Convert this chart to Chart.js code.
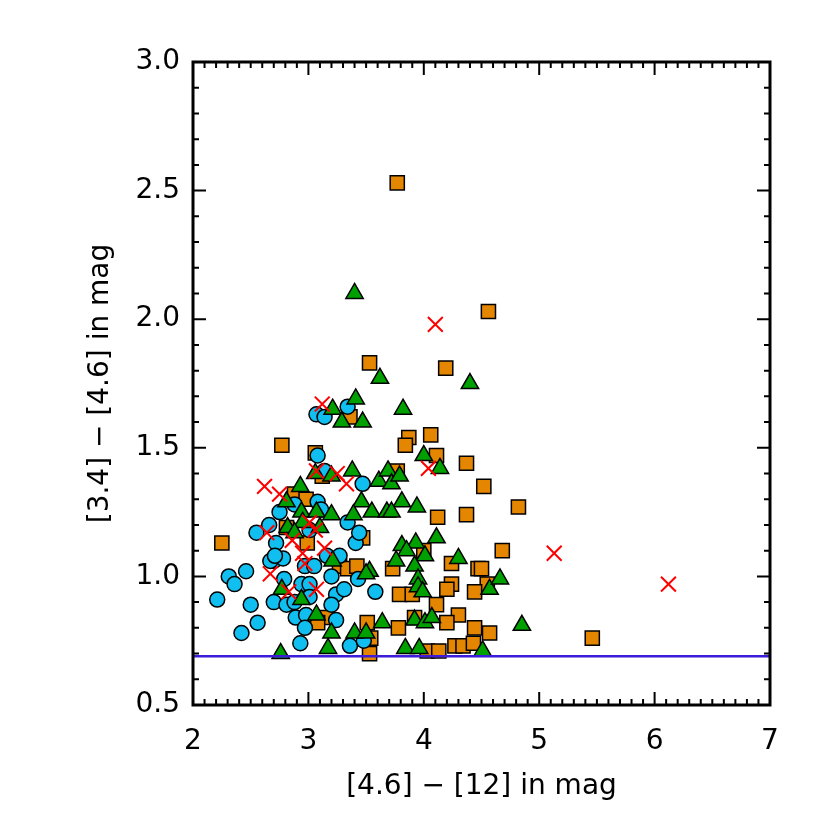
<!DOCTYPE html>
<html>
<head>
<meta charset="utf-8">
<script src="https://cdn.jsdelivr.net/npm/chart.js@4.4.1/dist/chart.umd.min.js"></script>
<style>
html, body { margin: 0; padding: 0; background: #fff; }
</style>
</head>
<body>
<canvas id="colorChart" width="830" height="830"></canvas>
<script>
// axis ranges and tick labels
const xRange = [2, 7];
const yRange = [0.5, 3.0];
const xTickLabels = [2, 3, 4, 5, 6, 7];
const yTickLabels = [0.5, 1.0, 1.5, 2.0, 2.5, 3.0];
const cutLine = 0.69;

// [4.6]-[12], [3.4]-[4.6] per group
const circles = [
    [3.07,1.63],[3.14,1.62],[3.34,1.66],[3.08,1.47],[3.14,1.41],[3.47,1.36],[3.08,1.29],[3.11,1.26],
    [2.75,1.25],[2.88,1.28],[2.66,1.20],[2.55,1.17],[2.72,1.13],[2.70,1.06],[2.78,1.07],[2.67,1.06],
    [2.71,1.08],[2.46,1.02],[2.31,1.00],[2.36,0.97],[2.21,0.91],[2.50,0.89],[2.56,0.82],[2.42,0.78],
    [2.79,0.99],[2.70,0.90],[2.81,0.89],[2.88,0.90],[2.89,0.84],[2.98,0.85],[2.97,0.80],[2.93,0.74],
    [2.94,0.97],[3.01,0.97],[3.01,0.92],[2.97,1.04],[3.05,1.04],[3.20,1.00],[3.24,0.93],[3.31,0.95],
    [3.20,0.89],[3.24,0.83],[3.36,0.73],[3.43,0.99],[3.58,0.94],[3.41,1.13],[3.34,1.21],[3.44,1.17],
    [3.27,1.08],[3.16,1.08],[3.01,1.18],[3.48,0.75]
];
const squares = [
    [2.25,1.13],[3.77,2.53],[4.56,2.03],[3.53,1.83],[4.19,1.81],[3.36,1.62],[2.77,1.51],[3.06,1.48],
    [2.88,1.32],[2.98,1.30],[3.12,1.39],[3.87,1.54],[3.84,1.51],[4.06,1.55],[4.11,1.47],[4.37,1.44],
    [4.52,1.35],[4.82,1.27],[3.77,1.41],[4.12,1.23],[4.37,1.24],[4.68,1.10],[4.00,1.10],[4.24,1.05],
    [4.47,1.03],[4.50,1.03],[3.73,1.03],[4.24,0.97],[4.20,0.95],[4.55,0.97],[4.44,0.94],[3.79,0.93],
    [3.90,0.93],[4.11,0.89],[4.30,0.85],[4.20,0.82],[3.92,0.84],[4.44,0.80],[4.57,0.78],[3.78,0.80],
    [3.54,0.76],[4.03,0.71],[4.13,0.71],[4.27,0.73],[4.34,0.73],[4.43,0.74],[3.53,0.70],[5.46,0.76],
    [3.27,1.04],[3.34,1.03],[3.42,1.04],[3.51,0.82],[3.15,0.84],[3.08,0.82],[2.99,1.13],[2.81,1.19],
    [3.47,1.15]
];
const triangles = [
    [3.40,2.10],[4.40,1.75],[3.62,1.77],[3.41,1.69],[3.21,1.65],[3.29,1.60],[3.47,1.60],[3.82,1.65],
    [2.93,1.35],[3.06,1.40],[3.20,1.39],[3.38,1.41],[3.61,1.37],[3.69,1.41],[2.81,1.29],[3.46,1.29],
    [2.94,1.25],[3.07,1.25],[3.20,1.24],[3.39,1.24],[3.55,1.25],[3.68,1.25],[4.00,1.47],[4.14,1.42],
    [3.72,1.36],[3.79,1.39],[3.81,1.29],[3.94,1.27],[3.72,1.25],[4.11,1.15],[3.81,1.12],[3.93,1.13],
    [3.85,1.10],[4.01,1.08],[3.76,1.06],[3.92,1.04],[4.30,1.07],[3.53,1.02],[3.95,0.99],[3.95,0.96],
    [3.99,0.94],[4.57,0.95],[4.66,0.99],[3.64,0.82],[3.92,0.83],[4.01,0.82],[4.07,0.84],[4.85,0.81],
    [3.84,0.72],[3.96,0.72],[4.51,0.71],[3.10,1.19],[2.82,1.19],[2.95,1.21],[2.88,1.17],[3.21,1.06],
    [3.50,1.01],[2.77,0.95],[2.94,0.91],[3.07,0.85],[3.20,0.78],[3.40,0.78],[3.50,0.78],[3.17,0.72],
    [2.76,0.70]
];
const crosses = [
    [3.12,1.67],[2.62,1.35],[2.75,1.32],[3.07,1.41],[3.25,1.40],[3.33,1.36],[2.64,1.17],[2.86,1.14],
    [3.01,1.21],[3.06,1.18],[2.95,1.09],[2.97,1.05],[3.14,1.11],[2.67,1.01],[2.83,0.94],[3.07,0.95],
    [4.04,1.42],[5.13,1.09],[6.12,0.97],[4.10,1.98]
];

const toPts = arr => arr.map(p => ({x: p[0], y: p[1]}));
const fontFam = '"DejaVu Sans", "Liberation Sans", sans-serif';

// box + inward ticks on all four sides, like the IDL plot
const frameTicks = {
    id: 'frameTicks',
    afterDraw(chart) {
        const {ctx, chartArea: a, scales: {x, y}} = chart;
        ctx.save();
        ctx.strokeStyle = '#000';
        ctx.lineWidth = 2;
        ctx.beginPath();
        for (let i = 0; i <= 50; i++) {
            const px = x.getPixelForValue(xRange[0] + i * 0.1);
            const len = i % 10 === 0 ? 13 : 6;
            ctx.moveTo(px, a.bottom); ctx.lineTo(px, a.bottom - len);
            ctx.moveTo(px, a.top); ctx.lineTo(px, a.top + len);
        }
        for (let i = 0; i <= 25; i++) {
            const py = y.getPixelForValue(yRange[0] + i * 0.1);
            const len = i % 5 === 0 ? 13 : 6;
            ctx.moveTo(a.left, py); ctx.lineTo(a.left + len, py);
            ctx.moveTo(a.right, py); ctx.lineTo(a.right - len, py);
        }
        ctx.stroke();
        ctx.lineWidth = 3;
        ctx.strokeRect(a.left, a.top, a.right - a.left, a.bottom - a.top);
        ctx.restore();
    }
};

const ctx = document.getElementById('colorChart').getContext('2d');
const myChart = new Chart(ctx, {
    type: 'scatter',
    data: {
        datasets: [
            {
                type: 'line',
                label: 'cut',
                data: [{x: xRange[0], y: cutLine}, {x: xRange[1], y: cutLine}],
                borderColor: '#3c1cd8',
                borderWidth: 2.5,
                pointRadius: 0,
                order: 0
            },
            {
                label: 'crosses',
                data: toPts(crosses),
                pointStyle: 'crossRot',
                pointRadius: 10.5,
                borderColor: '#ff0000',
                borderWidth: 2,
                order: 1
            },
            {
                label: 'triangles',
                data: toPts(triangles),
                pointStyle: 'triangle',
                pointRadius: 10,
                backgroundColor: '#00a000',
                borderColor: '#000',
                borderWidth: 1.5,
                order: 2
            },
            {
                label: 'circles',
                data: toPts(circles),
                pointStyle: 'circle',
                pointRadius: 7.5,
                backgroundColor: '#10bff0',
                borderColor: '#000',
                borderWidth: 1.5,
                order: 3
            },
            {
                label: 'squares',
                data: toPts(squares),
                pointStyle: 'rect',
                pointRadius: 10,
                backgroundColor: '#e58600',
                borderColor: '#000',
                borderWidth: 1.5,
                order: 4
            }
        ]
    },
    options: {
        responsive: false,
        animation: false,
        devicePixelRatio: 1,
        layout: { padding: { left: 80, top: 62, right: 60, bottom: 22 } },
        plugins: {
            legend: { display: false },
            tooltip: { enabled: false }
        },
        scales: {
            x: {
                type: 'linear',
                min: xRange[0],
                max: xRange[1],
                afterFit: s => { s.height = 103; },
                afterBuildTicks: s => { s.ticks = xTickLabels.map(v => ({value: v})); },
                grid: { display: false, drawTicks: false },
                border: { display: false },
                ticks: {
                    padding: 20,
                    color: '#000',
                    font: { family: fontFam, size: 28 },
                    callback: v => String(v)
                },
                title: {
                    display: true,
                    text: '[4.6] \u2212 [12] in mag',
                    color: '#000',
                    font: { family: fontFam, size: 28 }
                }
            },
            y: {
                type: 'linear',
                min: yRange[0],
                max: yRange[1],
                afterFit: s => { s.width = 113; },
                afterBuildTicks: s => { s.ticks = yTickLabels.map(v => ({value: v})); },
                grid: { display: false, drawTicks: false },
                border: { display: false },
                ticks: {
                    padding: 13,
                    color: '#000',
                    font: { family: fontFam, size: 28 },
                    callback: v => Number(v).toFixed(1)
                },
                title: {
                    display: true,
                    text: '[3.4] \u2212 [4.6] in mag',
                    color: '#000',
                    font: { family: fontFam, size: 28 }
                }
            }
        }
    },
    plugins: [frameTicks]
});
</script>
</body>
</html>
